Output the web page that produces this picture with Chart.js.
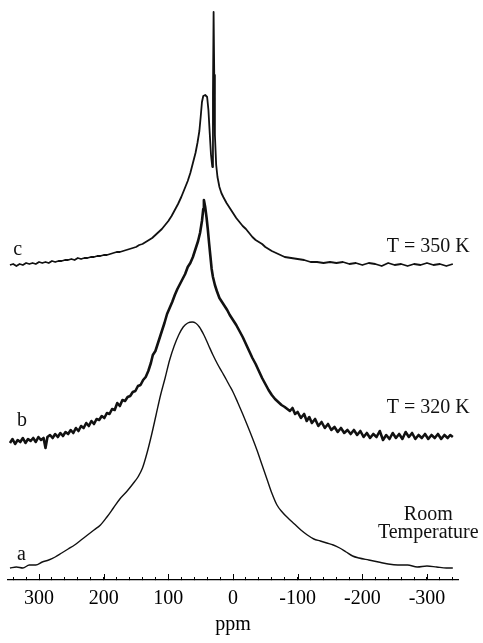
<!DOCTYPE html>
<html>
<head>
<meta charset="utf-8">
<script src="https://cdn.jsdelivr.net/npm/chart.js@4/dist/chart.umd.min.js"></script>
<style>
  html, body { margin: 0; padding: 0; background: #fff; }
</style>
</head>
<body>
<canvas id="canvas" width="483" height="643"></canvas>
<script>
// trace a: room temperature
const ppmA = [345, 335, 325, 315, 305, 295, 285, 275, 265, 255, 245, 235, 225, 215, 205, 195, 185, 175, 165, 155, 147, 140, 133, 126, 119, 112, 105, 98, 91, 84, 77, 70, 63, 58, 52, 45, 38, 31, 24, 17, 10, 5, 0, -7, -15, -22, -30, -37, -45, -53, -60, -68, -76, -85, -95, -105, -115, -125, -135, -145, -155, -165, -175, -185, -195, -210, -225, -240, -255, -270, -285, -300, -315, -330, -340]
const intA = [0, 1, 0, 3, 3, 6, 8, 11, 15, 19, 23, 28, 33, 38, 43, 51, 60, 69, 76, 84, 91, 100, 115, 133, 153, 173, 190, 208, 222, 233, 241, 245, 246, 245, 241, 233, 223, 213, 204, 196, 188, 182, 176, 166, 154, 143, 130, 118, 103, 88, 75, 63, 56, 50, 44, 38, 33, 29, 27, 25, 23, 20, 16, 12, 10, 8, 6, 4, 3, 3, 1, 2, 1, 0, 0]

// trace b: T = 320 K
const ppmB = [345, 341, 337, 333, 329, 325, 321, 317, 313, 309, 305, 301, 297, 293, 290, 287, 283, 279, 275, 271, 267, 263, 259, 255, 251, 247, 243, 239, 235, 231, 227, 223, 219, 215, 211, 207, 203, 199, 195, 191, 187, 183, 179, 175, 171, 167, 163, 159, 155, 151, 147, 143, 139, 135, 131, 127, 124, 120, 117, 113, 110, 106, 102, 98, 94, 90, 86, 82, 78, 74, 70, 66, 62, 58, 54, 51, 48, 46, 45, 43, 41, 39, 37, 35, 33, 31, 28, 25, 21, 17, 13, 9, 5, 0, -5, -10, -15, -20, -25, -30, -35, -40, -45, -50, -55, -60, -65, -70, -75, -80, -88, -92, -96, -100, -105, -110, -114, -118, -122, -127, -132, -137, -142, -147, -152, -157, -162, -167, -172, -177, -182, -187, -192, -197, -202, -207, -212, -217, -222, -227, -232, -237, -242, -247, -252, -257, -262, -267, -272, -277, -282, -287, -292, -297, -302, -307, -312, -317, -322, -327, -332, -336, -340]
const intB = [-2, 2, -3, 1, -1, 3, -2, 2, 0, 3, -1, 4, 1, 3, -7, 4, 6, 3, 7, 4, 8, 5, 9, 7, 11, 8, 13, 10, 15, 13, 18, 15, 20, 17, 22, 21, 25, 23, 28, 27, 32, 31, 38, 35, 41, 40, 44, 45, 49, 50, 55, 56, 61, 64, 70, 78, 86, 90, 96, 104, 110, 118, 127, 133, 139, 146, 152, 157, 162, 167, 174, 178, 184, 192, 200, 208, 220, 232, 241, 234, 224, 212, 198, 185, 172, 164, 156, 150, 143, 139, 135, 131, 126, 121, 116, 110, 104, 97, 90, 83, 77, 70, 63, 57, 51, 46, 42, 39, 36, 34, 30, 33, 27, 29, 23, 27, 20, 24, 18, 22, 15, 19, 13, 17, 11, 14, 9, 13, 8, 11, 7, 11, 6, 10, 4, 8, 3, 7, 4, 10, 1, 6, 2, 8, 3, 7, 2, 9, 4, 8, 2, 6, 3, 7, 2, 6, 3, 7, 2, 6, 3, 6, 4]

// trace c: T = 350 K
const ppmC = [345, 340, 335, 330, 325, 320, 315, 310, 305, 300, 295, 290, 285, 280, 275, 270, 265, 260, 255, 250, 245, 240, 235, 230, 225, 220, 215, 210, 205, 200, 195, 190, 185, 180, 175, 170, 165, 160, 155, 150, 145, 140, 135, 130, 125, 120, 115, 110, 105, 100, 95, 90, 85, 80, 75, 70, 66, 62, 58, 55, 52, 50, 48, 46, 43, 40, 38, 36, 34, 32, 31, 30, 29, 28, 26, 24, 21, 18, 15, 10, 5, 0, -5, -10, -15, -20, -25, -30, -35, -40, -45, -50, -55, -60, -70, -80, -90, -100, -110, -120, -130, -140, -150, -160, -170, -180, -190, -200, -210, -220, -230, -240, -250, -260, -270, -280, -290, -300, -310, -320, -330, -340]
const intC = [0, 1, -1, 1, 0, 2, 1, 2, 1, 3, 2, 3, 2, 4, 3, 4, 4, 5, 5, 6, 5, 7, 6, 7, 7, 8, 8, 9, 9, 10, 10, 11, 12, 13, 13, 14, 15, 16, 17, 18, 20, 21, 23, 25, 27, 30, 33, 36, 40, 44, 49, 55, 61, 68, 76, 84, 92, 102, 112, 122, 134, 148, 163, 169, 170, 168, 155, 132, 110, 98, 170, 253, 190, 130, 100, 88, 78, 72, 68, 62, 57, 52, 47, 43, 39, 36, 32, 28, 25, 23, 21, 18, 16, 14, 11, 8, 7, 6, 5, 3, 3, 2, 3, 2, 3, 1, 2, 0, 2, 1, -1, 2, 0, 1, -1, 1, 0, 2, 0, 1, -1, 1]

// vertical stacking of the three spectra
const offsets = { a: 12, b: 139, c: 315 }

// x axis
const ppmMin = -348, ppmMax = 348
const tickStep = 20

// text labels: [text, ppm, height, align]
const labelTexts = ['c', 'T = 350 K', 'b', 'T = 320 K', 'Room', 'Temperature', 'a']
const labelPpm = [340, -366, 334, -366, -302, -302, 334]
const labelHeight = [325, 328, 154, 167, 60, 42, 20]
const labelAlign = ['left', 'right', 'left', 'right', 'center', 'center', 'left']

const serif = '"Liberation Serif", "DejaVu Serif", serif'
Chart.defaults.font.family = serif
Chart.defaults.font.size = 20
Chart.defaults.color = '#000'

const toPoints = (xs, ys, off) => xs.map((x, i) => ({ x: x, y: ys[i] + off }))

const majorTicks = {
  id: 'majorTicks',
  afterDraw(chart) {
    const sx = chart.scales.x
    const ctx = chart.ctx
    ctx.save()
    ctx.strokeStyle = '#000'
    ctx.lineWidth = 1
    sx.ticks.forEach(t => {
      if (t.value % 100 !== 0) return
      const px = Math.round(sx.getPixelForValue(t.value)) + 0.5
      ctx.beginPath()
      ctx.moveTo(px, sx.top)
      ctx.lineTo(px, sx.top - 6)
      ctx.stroke()
    })
    ctx.restore()
  }
}

const textLabels = {
  id: 'textLabels',
  afterDatasetsDraw(chart) {
    const { x, y } = chart.scales
    const ctx = chart.ctx
    ctx.save()
    ctx.font = '20px ' + serif
    ctx.fillStyle = '#111'
    ctx.textBaseline = 'alphabetic'
    labelTexts.forEach((t, i) => {
      ctx.textAlign = labelAlign[i]
      ctx.fillText(t, x.getPixelForValue(labelPpm[i]), y.getPixelForValue(labelHeight[i]))
    })
    ctx.restore()
  }
}

const data = {
  datasets: [
    {
      label: 'a',
      data: toPoints(ppmA, intA, offsets.a),
      borderColor: '#111',
      borderWidth: 1.4,
      cubicInterpolationMode: 'monotone',
    },
    {
      label: 'b',
      data: toPoints(ppmB, intB, offsets.b),
      borderColor: '#111',
      borderWidth: 2.6,
      tension: 0,
    },
    {
      label: 'c',
      data: toPoints(ppmC, intC, offsets.c),
      borderColor: '#111',
      borderWidth: 1.8,
      tension: 0,
    },
  ]
}

const config = {
  type: 'line',
  data: data,
  options: {
    responsive: false,
    animation: false,
    layout: { padding: { left: 8, right: 25, top: 0, bottom: 0 } },
    elements: { point: { radius: 0 }, line: { borderJoinStyle: 'round' } },
    plugins: { legend: { display: false }, tooltip: { enabled: false } },
    scales: {
      x: {
        type: 'linear',
        min: ppmMin,
        max: ppmMax,
        reverse: true,
        afterFit: s => { s.height = 63 },
        border: { display: true, color: '#000', width: 1.2 },
        grid: { drawOnChartArea: false, drawTicks: true, tickLength: -3, color: '#000', tickColor: '#000' },
        ticks: {
          stepSize: tickStep,
          includeBounds: false,
          autoSkip: false,
          maxRotation: 0,
          padding: 10,
          color: '#000',
          font: { size: 20, family: serif },
          callback: v => (v % 100 === 0 ? String(v) : ''),
        },
        title: { display: true, text: 'ppm', color: '#000', font: { size: 20, family: serif }, padding: { top: 0, bottom: 6 } },
      },
      y: {
        display: false,
        min: 0,
        max: 580,
      },
    },
  },
  plugins: [majorTicks, textLabels],
}

const canvas = document.getElementById('canvas')
const chart = new Chart(canvas, config)
</script>
</body>
</html>
